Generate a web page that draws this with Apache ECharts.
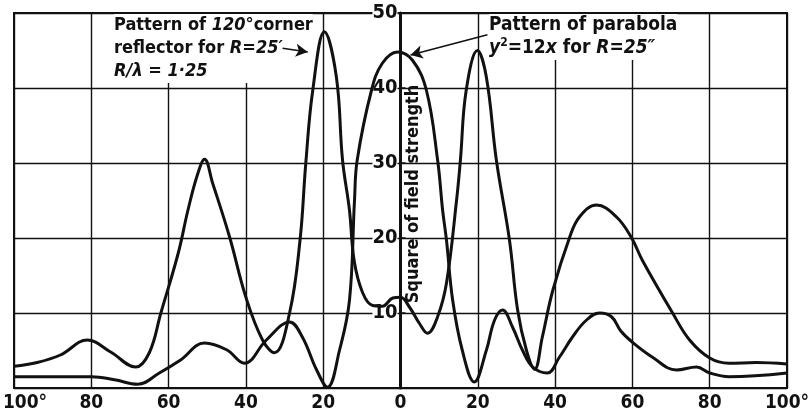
<!DOCTYPE html>
<html>
<head>
<meta charset="utf-8">
<script src="https://cdn.jsdelivr.net/npm/echarts@6/dist/echarts.min.js"></script>
<style>
  html, body { margin: 0; padding: 0; background: #fff; }
  #chart { width: 812px; height: 418px; }
</style>
</head>
<body>
<div id="chart"></div>
<script>
// angle (deg, negative = left of axis) vs square of field strength
var cornerReflector = [
    [-100, 2.9], [-94, 3.4], [-88, 4.4], [-81, 6.4], [-75, 4.8], [-68.5, 2.8], [-65, 4.7],
    [-62, 10], [-57.5, 18], [-55, 23.7], [-52.5, 28.5], [-50.7, 30.5], [-48.6, 27.3],
    [-44.2, 20.1], [-40, 12.1], [-35.7, 6.4], [-32.6, 4.7], [-28.7, 10], [-26, 19.7],
    [-24.5, 30], [-22.7, 39.7], [-19.7, 47.5], [-16.6, 41.5], [-15, 30.4], [-13.2, 23.7],
    [-12, 17], [-9.8, 12.7], [-7.2, 11], [-4.7, 10.9], [-2, 12], [0, 12.1], [2.3, 10.8],
    [4.9, 8.6], [7, 7.3], [9.6, 9.5], [11.9, 14], [14.5, 25], [15.5, 30.4], [17, 39.7],
    [19.9, 45], [22.2, 41.5], [24.8, 30.4], [28.2, 19.7], [30.3, 10.4], [32.6, 5],
    [34.7, 2.5], [36.7, 6.8], [39.4, 13], [43.7, 20], [46.3, 22.8], [50.7, 24.4],
    [55.9, 22.8], [59.8, 20], [62.6, 17], [70.4, 10], [74.8, 6.4], [80, 4], [85, 3.3],
    [92, 3.4], [100, 3.2]
];
var parabola = [
    [-100, 1.5], [-90, 1.5], [-80, 1.5], [-74, 1.1], [-68, 0.5], [-62.4, 2], [-57, 3.7],
    [-50.7, 6], [-45, 5.1], [-40.4, 3.3], [-34.7, 6.4], [-28.7, 8.8], [-25.4, 6.8],
    [-21.7, 2.4], [-18.9, 0.1], [-15.8, 5], [-13.2, 11.7], [-11.9, 25], [-11.2, 30.4],
    [-7.5, 39.7], [-4.7, 43.3], [-0.8, 44.8], [3.1, 43.7], [6.7, 39.7], [9.6, 30.4],
    [10.9, 23.7], [11.9, 19.7], [13.5, 11.7], [16, 5], [19.1, 0.8], [22.2, 5], [24.3, 9],
    [26.4, 10.4], [29, 8.1], [31.6, 5], [34.2, 2.8], [38, 2], [41.1, 4.1], [44.5, 6.8],
    [48, 9], [51.5, 10], [54.6, 9.5], [57, 7.6], [60, 6.1], [65.2, 4.1], [71.4, 2.4],
    [76.6, 2.8], [80, 2], [85, 1.5], [100, 2]
];
var xTicks = [-100, -80, -60, -40, -20, 0, 20, 40, 60, 80, 100];
var yTicks = [10, 20, 30, 40, 50];

var font = "'DejaVu Sans Condensed', 'DejaVu Sans', sans-serif";
var ink = '#111';
var gridLeft = 14, gridRight = 25;
// shift the y axis from the left edge onto the 0° line
var yShift = -(812 - gridLeft - gridRight) / 2;

var option = {
    backgroundColor: '#fff',
    animation: false,
    grid: {
        left: gridLeft, right: gridRight, top: 13, bottom: 30,
        show: true,
        borderColor: ink,
        borderWidth: 2,
        containLabel: false,
        outerBoundsMode: 'none'
    },
    xAxis: {
        type: 'value',
        min: -100, max: 100, interval: 20,
        axisLine: { show: false },
        axisTick: { show: false },
        splitLine: { lineStyle: { color: ink, width: 1.4 } },
        axisLabel: {
            color: ink, fontFamily: font, fontWeight: 'bold', fontSize: 19, margin: 6,
            formatter: function(v) {
                if (xTicks.indexOf(v) < 0) return '';
                if (v === -100) return '{l|100°}';
                return Math.abs(v) === 100 ? '100°' : String(Math.abs(v));
            },
            rich: {
                l: { color: ink, fontFamily: font, fontWeight: 'bold', fontSize: 19, padding: [0, 0, 0, 22] }
            }
        }
    },
    yAxis: {
        type: 'value',
        min: 0, max: 50, interval: 10,
        offset: yShift,
        axisLine: { show: true, onZero: false, lineStyle: { color: ink, width: 3 } },
        axisTick: { show: true, inside: true, length: 5, lineStyle: { color: ink, width: 1.5 } },
        splitLine: { lineStyle: { color: ink, width: 1.4 } },
        axisLabel: {
            color: ink, fontFamily: font, fontWeight: 'bold', fontSize: 20, margin: 3,
            backgroundColor: '#fff',
            formatter: function(v) {
                return yTicks.indexOf(v) < 0 ? '' : String(v);
            }
        }
    },
    series: [{
        name: 'corner reflector',
        type: 'line',
        smooth: 0.4,
        symbol: 'none',
        data: cornerReflector,
        lineStyle: { color: ink, width: 3 },
        markLine: {
            silent: true,
            symbol: ['none', 'arrow'],
            symbolSize: [10, 12],
            label: { show: false },
            lineStyle: { color: ink, width: 1.5, type: 'solid' },
            data: [[{ coord: [-30.5, 45.3] }, { coord: [-24, 44.8] }]]
        }
    }, {
        name: 'parabola',
        type: 'line',
        smooth: 0.4,
        symbol: 'none',
        data: parabola,
        lineStyle: { color: ink, width: 3 },
        markLine: {
            silent: true,
            symbol: ['none', 'arrow'],
            symbolSize: [10, 12],
            label: { show: false },
            lineStyle: { color: ink, width: 1.5, type: 'solid' },
            data: [[{ coord: [22.5, 47.1] }, { coord: [2.6, 44.4] }]]
        }
    }],
    graphic: [{
        type: 'text',
        left: 114, top: 14,
        z: 1,
        style: {
            text: '{n|Pattern of }{i|120°}{n|corner}\n{n|reflector for }{i|R=25′}\n{i|R/λ = 1·25}',
            backgroundColor: '#fff',
            rich: {
                n: { fontFamily: font, fontSize: 18, fontWeight: 'bold', fill: ink, lineHeight: 23 },
                i: { fontFamily: font, fontSize: 18, fontStyle: 'italic', fontWeight: 'bold', fill: ink, lineHeight: 23 }
            }
        }
    }, {
        type: 'text',
        left: 489, top: 14,
        z: 1,
        style: {
            text: '{n|Pattern of parabola}\n{i|y}{s|2}{n|=12}{i|x}{n| for }{i|R=25″}',
            backgroundColor: '#fff',
            rich: {
                n: { fontFamily: font, fontSize: 19, fontWeight: 'bold', fill: ink, lineHeight: 23 },
                i: { fontFamily: font, fontSize: 19, fontStyle: 'italic', fontWeight: 'bold', fill: ink, lineHeight: 23 },
                s: { fontFamily: font, fontSize: 12, fontWeight: 'bold', fill: ink, verticalAlign: 'top', lineHeight: 23 }
            }
        }
    }, {
        // axis title, written up the right side of the 0° axis
        type: 'text',
        x: 413, y: 194,
        rotation: Math.PI / 2,
        z: 1,
        style: {
            text: 'Square of field strength',
            fontFamily: font, fontSize: 18, fontWeight: 'bold', fill: ink,
            align: 'center', verticalAlign: 'middle'
        }
    }]
};

var myChart = echarts.init(document.getElementById('chart'));
myChart.setOption(option);
</script>
</body>
</html>
